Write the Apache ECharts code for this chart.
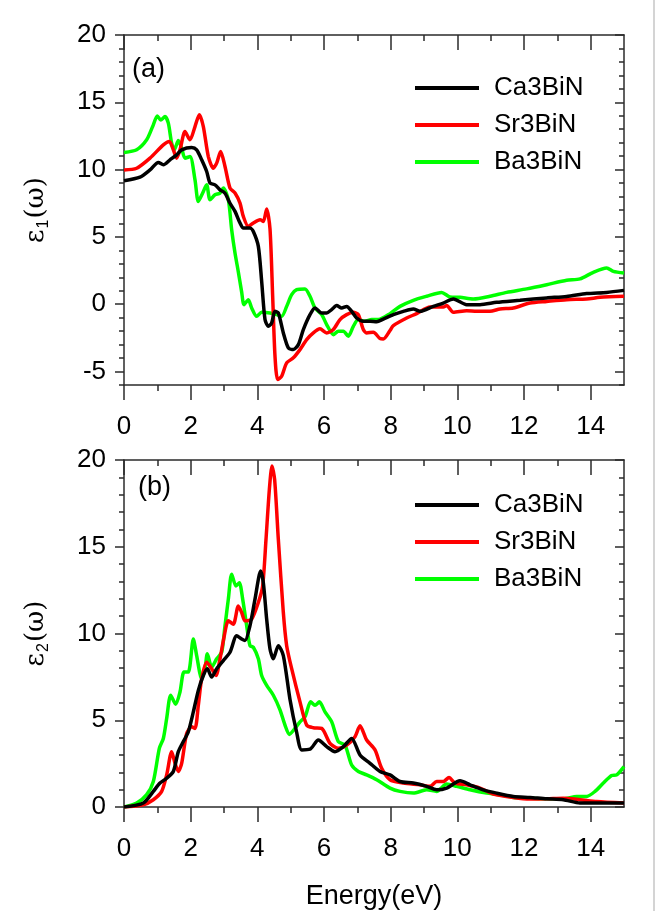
<!DOCTYPE html>
<html>
<head>
<meta charset="utf-8">
<script src="https://cdn.jsdelivr.net/npm/echarts@6/dist/echarts.min.js"></script>
<style>
  html, body { margin: 0; padding: 0; background: #ffffff; }
  #chart { width: 657px; height: 911px; }
</style>
</head>
<body>
<div id="chart"></div>
<script>
// Compound names and line colours
const compounds = ['Ca3BiN', 'Sr3BiN', 'Ba3BiN'];
const colors = ['#000000', '#ff0000', '#00ff00'];

// Tick values
const energyMajor = [0, 2, 4, 6, 8, 10, 12, 14];
const energyMinor = [1, 3, 5, 7, 9, 11, 13];
const eps1Major = [-5, 0, 5, 10, 15, 20];
const eps1Minor = [-6, -4, -3, -2, -1, 1, 2, 3, 4, 6, 7, 8, 9, 11, 12, 13, 14, 16, 17, 18, 19];
const eps2Major = [0, 5, 10, 15, 20];
const eps2Minor = [1, 2, 3, 4, 6, 7, 8, 9, 11, 12, 13, 14, 16, 17, 18, 19];

// Real part of the dielectric function, [energy (eV), eps1]
const eps1Ca = [[0,9.17],[0.48,9.44],[0.78,9.98],[1.03,10.53],[1.18,10.36],[1.38,10.73],[1.58,11.1],[1.73,11.47],[2.03,11.64],[2.18,11.47],[2.33,10.73],[2.48,9.86],[2.58,9.0],[2.73,8.87],[2.88,8.5],[3.03,8.25],[3.18,7.5],[3.33,6.9],[3.48,6.03],[3.58,5.66],[3.78,5.66],[3.88,5.41],[4.03,4.3],[4.13,1.7],[4.23,-1.14],[4.33,-1.64],[4.43,-1.39],[4.53,-0.53],[4.63,-0.65],[4.78,-2.13],[4.93,-3.24],[5.08,-3.37],[5.23,-3.0],[5.38,-1.88],[5.58,-0.77],[5.73,-0.28],[5.93,-0.65],[6.08,-0.65],[6.23,-0.4],[6.38,-0.1],[6.53,-0.28],[6.68,-0.16],[6.83,-0.53],[6.98,-1.02],[7.18,-1.27],[7.38,-1.27],[7.58,-1.3],[7.78,-1.1],[8.08,-0.77],[8.38,-0.53],[8.68,-0.35],[8.88,-0.53],[9.28,-0.16],[9.58,0.09],[9.88,0.39],[10.28,-0.03],[10.68,-0.03],[11.18,0.14],[11.88,0.29],[12.68,0.47],[13.28,0.58],[13.88,0.79],[14.48,0.88],[15,1.03]];
const eps1Sr = [[0,9.98],[0.38,10.1],[0.78,10.85],[1.18,11.84],[1.36,12.09],[1.48,11.47],[1.58,10.85],[1.68,11.47],[1.83,12.83],[1.98,12.21],[2.13,13.2],[2.26,14.07],[2.38,13.2],[2.53,10.97],[2.68,10.1],[2.78,10.48],[2.9,11.34],[3.03,10.23],[3.18,8.63],[3.33,8.26],[3.48,7.51],[3.58,6.52],[3.73,5.78],[3.88,6.03],[4.08,6.28],[4.18,6.15],[4.28,7.08],[4.38,5.6],[4.46,0.59],[4.53,-3.86],[4.61,-5.59],[4.73,-5.35],[4.88,-4.36],[5.08,-3.98],[5.28,-3.37],[5.48,-2.63],[5.68,-2.13],[5.88,-1.83],[6.08,-2.13],[6.28,-1.88],[6.48,-1.14],[6.68,-0.77],[6.88,-0.6],[7.03,-0.77],[7.18,-1.88],[7.28,-2.13],[7.48,-2.08],[7.68,-2.55],[7.78,-2.58],[7.98,-1.95],[8.08,-1.59],[8.48,-1.02],[8.78,-0.7],[9.18,-0.2],[9.58,-0.2],[9.68,-0.1],[9.88,-0.6],[10.28,-0.48],[10.58,-0.53],[10.98,-0.53],[11.28,-0.35],[11.68,-0.28],[12.18,0.09],[12.68,0.21],[13.28,0.34],[13.88,0.39],[14.28,0.51],[15,0.59]];
const eps1Ba = [[0,11.27],[0.38,11.47],[0.68,12.21],[0.86,13.2],[1.0,13.99],[1.1,13.69],[1.23,13.94],[1.33,13.45],[1.43,11.96],[1.51,11.47],[1.63,12.16],[1.73,11.59],[1.83,10.85],[1.98,10.97],[2.13,9.24],[2.23,7.63],[2.36,8.26],[2.48,8.87],[2.58,7.76],[2.73,8.13],[2.88,8.26],[2.98,8.63],[3.13,7.76],[3.23,5.53],[3.33,3.8],[3.43,2.4],[3.53,0.9],[3.6,-0.03],[3.73,0.34],[3.83,-0.28],[3.98,-0.9],[4.13,-0.6],[4.38,-0.65],[4.58,-0.77],[4.73,-0.9],[4.88,-0.16],[5.03,0.71],[5.18,1.08],[5.43,1.14],[5.58,0.59],[5.73,-0.28],[5.93,-0.77],[6.08,-1.51],[6.28,-2.26],[6.43,-2.0],[6.58,-2.0],[6.73,-2.38],[6.88,-1.64],[7.03,-1.14],[7.23,-1.27],[7.43,-1.14],[7.63,-1.14],[7.98,-0.7],[8.28,-0.16],[8.68,0.29],[9.08,0.59],[9.53,0.88],[9.78,0.54],[10.08,0.51],[10.48,0.39],[10.98,0.59],[11.48,0.88],[12.08,1.14],[12.68,1.45],[13.28,1.78],[13.68,1.88],[14.08,2.37],[14.48,2.69],[14.68,2.44],[15,2.32]];

// Imaginary part of the dielectric function, [energy (eV), eps2]
const eps2Ca = [[0,0],[0.58,0.23],[0.88,0.9],[1.08,1.38],[1.28,1.66],[1.48,2.05],[1.63,3.19],[1.78,3.77],[1.93,4.34],[2.08,5.48],[2.23,6.72],[2.38,7.58],[2.5,7.97],[2.63,7.49],[2.78,7.97],[2.98,8.44],[3.18,8.92],[3.38,9.87],[3.53,9.68],[3.63,9.59],[3.78,10.45],[3.93,11.98],[4.1,13.6],[4.18,12.93],[4.28,10.83],[4.38,9.11],[4.48,8.54],[4.63,9.3],[4.78,8.73],[4.98,6.2],[5.18,4.3],[5.33,3.29],[5.58,3.33],[5.83,3.86],[6.08,3.48],[6.33,3.19],[6.58,3.48],[6.83,3.95],[7.08,3.0],[7.38,2.52],[7.68,2.05],[7.98,1.85],[8.28,1.47],[8.68,1.38],[9.08,1.19],[9.38,0.99],[9.68,1.09],[10.08,1.51],[10.38,1.28],[10.78,0.99],[11.18,0.8],[11.68,0.61],[12.18,0.55],[12.68,0.47],[13.18,0.42],[13.68,0.23],[14.18,0.23],[15,0.23]];
const eps2Sr = [[0,0],[0.58,0.13],[0.88,0.42],[1.13,0.9],[1.28,1.85],[1.43,3.19],[1.53,2.52],[1.63,2.05],[1.73,2.52],[1.88,4.24],[2.03,4.62],[2.13,4.53],[2.23,5.86],[2.33,7.39],[2.48,8.35],[2.63,7.97],[2.76,7.58],[2.88,8.54],[3.0,9.78],[3.13,10.73],[3.28,10.54],[3.43,11.59],[3.53,11.21],[3.63,10.73],[3.83,10.83],[4.03,11.79],[4.16,12.74],[4.26,15.42],[4.36,18.28],[4.44,19.66],[4.52,18.85],[4.63,15.42],[4.78,11.21],[4.88,9.3],[5.03,7.97],[5.28,6.06],[5.48,4.72],[5.68,4.57],[5.93,4.53],[6.18,3.67],[6.43,3.38],[6.68,3.57],[6.93,4.05],[7.08,4.68],[7.28,3.86],[7.53,3.29],[7.73,2.23],[7.98,1.57],[8.38,1.38],[8.88,1.28],[9.18,1.19],[9.38,1.47],[9.58,1.47],[9.75,1.7],[9.93,1.38],[10.28,1.28],[10.68,1.09],[11.08,0.75],[11.68,0.55],[12.18,0.46],[12.68,0.47],[13.18,0.5],[13.68,0.42],[14.18,0.32],[15,0.23]];
const eps2Ba = [[0,0],[0.38,0.23],[0.68,0.71],[0.88,1.47],[1.06,3.38],[1.18,3.95],[1.28,5.1],[1.4,6.44],[1.55,5.92],[1.68,6.63],[1.8,7.78],[1.93,7.78],[2.08,9.68],[2.18,8.73],[2.33,7.39],[2.43,7.97],[2.5,8.83],[2.63,8.06],[2.78,8.54],[2.93,8.92],[3.03,10.45],[3.13,11.98],[3.23,13.41],[3.36,12.74],[3.46,12.93],[3.56,11.98],[3.68,10.45],[3.78,9.3],[3.88,9.21],[4.03,8.54],[4.13,7.58],[4.28,7.01],[4.48,6.44],[4.68,5.6],[4.83,4.72],[4.96,4.18],[5.13,4.53],[5.28,4.91],[5.43,5.2],[5.6,6.06],[5.73,5.86],[5.86,6.06],[6.03,5.48],[6.23,4.91],[6.43,3.77],[6.63,3.57],[6.83,2.42],[7.03,2.05],[7.28,1.85],[7.58,1.57],[7.98,1.09],[8.28,0.9],[8.68,0.8],[9.08,0.99],[9.38,0.9],[9.68,1.32],[9.98,1.19],[10.38,0.99],[10.88,0.8],[11.28,0.71],[11.68,0.55],[12.18,0.51],[12.68,0.47],[13.18,0.47],[13.58,0.61],[13.88,0.61],[14.13,0.9],[14.38,1.38],[14.63,1.81],[14.78,1.85],[15,2.33]];

const FONT = "'Liberation Sans', Arial, Helvetica, sans-serif";
const AXIS_COLOR = '#2b2b2b';

// One tick-bearing axis; every panel frame is assembled from several of these.
function tickAxis(opts) {
  return {
    type: 'value',
    gridIndex: opts.grid,
    position: opts.position,
    min: opts.min,
    max: opts.max,
    axisLine: { show: !!opts.line, onZero: false, lineStyle: { color: AXIS_COLOR, width: 1.5 } },
    axisTick: {
      show: true,
      inside: !!opts.inside,
      length: opts.length,
      customValues: opts.ticks,
      lineStyle: { color: AXIS_COLOR, width: 1.5 }
    },
    axisLabel: opts.labels ? {
      show: true,
      customValues: opts.ticks,
      fontFamily: FONT,
      fontSize: 26,
      color: '#000',
      margin: opts.margin
    } : { show: false },
    splitLine: { show: false },
    name: opts.name || '',
    nameLocation: 'middle',
    nameGap: opts.nameGap || 0,
    nameTextStyle: opts.nameStyle || {}
  };
}

const epsName = (sub) => ({
  name: '{g|ε}{s|' + sub + '}{g|(ω)}',
  nameStyle: {
    rich: {
      g: { fontFamily: "'DejaVu Serif', 'Liberation Serif', serif", fontSize: 26, color: '#000', lineHeight: 32 },
      s: { fontFamily: FONT, fontSize: 16, color: '#000', lineHeight: 14, verticalAlign: 'bottom', padding: [0, 1, 0, 1] }
    }
  }
});

const grids = [
  { left: 124, top: 35, width: 500, height: 350 },
  { left: 124, top: 460, width: 500, height: 349 }
];

const xAxes = [];
const yAxes = [];
const yRanges = [[-6, 20, eps1Major, eps1Minor, '1'], [0, 20, eps2Major, eps2Minor, '2']];

[0, 1].forEach((g) => {
  // energy axis: labelled bottom edge, mirrored top edge with inward ticks
  xAxes.push(tickAxis({ grid: g, position: 'bottom', min: 0, max: 15, ticks: energyMajor, length: 15, line: true, labels: true, margin: 29,
    name: g === 1 ? 'Energy(eV)' : '', nameGap: 76, nameStyle: { fontFamily: FONT, fontSize: 27, color: '#000' } }));
  xAxes.push(tickAxis({ grid: g, position: 'bottom', min: 0, max: 15, ticks: energyMinor, length: 6 }));
  xAxes.push(tickAxis({ grid: g, position: 'top', min: 0, max: 15, ticks: energyMajor, length: 15, line: true, inside: true }));
  xAxes.push(tickAxis({ grid: g, position: 'top', min: 0, max: 15, ticks: energyMinor, length: 6, inside: true }));

  const [lo, hi, major, minor, sub] = yRanges[g];
  const nm = epsName(sub);
  yAxes.push(tickAxis({ grid: g, position: 'left', min: lo, max: hi, ticks: major, length: 9, line: true, labels: true, margin: 18,
    name: nm.name, nameGap: 72, nameStyle: nm.nameStyle }));
  yAxes.push(tickAxis({ grid: g, position: 'left', min: lo, max: hi, ticks: minor, length: 5 }));
  yAxes.push(tickAxis({ grid: g, position: 'right', min: lo, max: hi, ticks: major, length: 9, line: true, inside: true }));
  yAxes.push(tickAxis({ grid: g, position: 'right', min: lo, max: hi, ticks: minor, length: 5, inside: true }));
});

const panelData = [[eps1Ca, eps1Sr, eps1Ba], [eps2Ca, eps2Sr, eps2Ba]];
const series = [];
[0, 1].forEach((g) => {
  panelData[g].forEach((d, i) => {
    series.push({
      type: 'line',
      name: compounds[i],
      xAxisIndex: g * 4,
      yAxisIndex: g * 4,
      data: d,
      smooth: 0.25,
      symbol: 'none',
      lineStyle: { color: colors[i], width: 3.5 },
      itemStyle: { color: colors[i] },
      z: 3 - i
    });
  });
});

const legendBase = {
  orient: 'vertical',
  left: 410,
  icon: 'rect',
  itemWidth: 64,
  itemHeight: 4,
  itemGap: 11,
  data: compounds,
  selectedMode: false,
  textStyle: { fontFamily: FONT, fontSize: 26, color: '#000', lineHeight: 26, padding: [0, 0, 0, 10] }
};

const chart = echarts.init(document.getElementById('chart'), null, { renderer: 'canvas' });
chart.setOption({
  backgroundColor: '#ffffff',
  animation: false,
  grid: grids,
  xAxis: xAxes,
  yAxis: yAxes,
  legend: [
    Object.assign({}, legendBase, { top: 70 }),
    Object.assign({}, legendBase, { top: 487 })
  ],
  graphic: [
    { type: 'text', left: 132, top: 56, style: { text: '(a)', font: '27px ' + FONT, fill: '#000' } },
    { type: 'text', left: 138, top: 474, style: { text: '(b)', font: '27px ' + FONT, fill: '#000' } },
    { type: 'line', shape: { x1: 654, y1: 0, x2: 654, y2: 911 }, style: { stroke: '#d4d4d4', lineWidth: 2 } }
  ],
  series: series
});
</script>
</body>
</html>
